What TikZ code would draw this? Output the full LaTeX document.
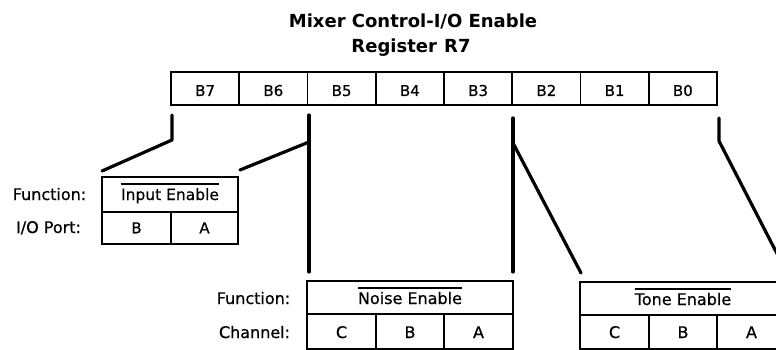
\documentclass[tikz,border=0pt]{standalone}
\usepackage{fontspec}
\setmainfont{DejaVu Sans}[UprightFeatures={FakeBold=0.6}]
\newcommand\ovtxt[1]{\setbox0\hbox{#1}\rlap{\raisebox{15.5pt}{\rule{\wd0}{1.1pt}}}\box0}
\begin{document}
\begin{tikzpicture}[x=1pt,y=-1pt,
  cellbox/.style={draw,line width=1.6pt,inner sep=0pt,outer sep=0pt,text depth=0pt},
  conn/.style={line width=3.2pt,line cap=round,line join=round},
  lbl/.style={inner sep=0pt,anchor=base,font=\fontsize{16}{19}\selectfont},
  ttl/.style={inner sep=0pt,anchor=base,font=\bfseries\fontsize{18}{21}\selectfont}]
\useasboundingbox (0,0) rectangle (776,350);
\clip (0,0) rectangle (776,350);

% title
\node[ttl] (t1) at (413,28) {Mixer Control-I/O Enable};
\node[ttl] (t2) at (411,53) {Register\hspace{0.4em}R7};

% register cells
\foreach \n/\i in {7/0,6/1,5/2,4/3,3/4,2/5,1/6,0/7}{
  \node[cellbox,minimum width=68.25pt,minimum height=33pt,text height=15pt,
        font=\fontsize{15}{18}\selectfont,anchor=north west]
     (b\n) at ({171+68.25*\i},72) {B\n};
}

% Input enable box
\node[cellbox,minimum width=136pt,minimum height=35pt,text height=11pt,
      font=\fontsize{15.5}{18}\selectfont,anchor=north west]
   (inf) at (102,177) {\ovtxt{Input Enable}};
\node[cellbox,minimum width=69pt,minimum height=32pt,text height=10.5pt,
      font=\fontsize{15}{18}\selectfont,anchor=north west]
   (inb) at (102,212) {B};
\node[cellbox,minimum width=67pt,minimum height=32pt,text height=10.5pt,
      font=\fontsize{15}{18}\selectfont,anchor=north west]
   (ina) at (171,212) {A};
\node[lbl] (lf1) at (49.5,200) {Function:};
\node[lbl] (lp1) at (48.5,233) {I/O Port:};

% Noise enable box
\node[cellbox,minimum width=206pt,minimum height=33pt,text height=13pt,
      font=\fontsize{16}{19}\selectfont,anchor=north west]
   (nf) at (307,281) {\ovtxt{Noise Enable}};
\node[cellbox,minimum width=69pt,minimum height=35pt,text height=13pt,
      font=\fontsize{16}{19}\selectfont,anchor=north west]
   (nc) at (307,314) {C};
\node[cellbox,minimum width=68pt,minimum height=35pt,text height=13pt,
      font=\fontsize{16}{19}\selectfont,anchor=north west]
   (nb) at (376,314) {B};
\node[cellbox,minimum width=69pt,minimum height=35pt,text height=13pt,
      font=\fontsize{16}{19}\selectfont,anchor=north west]
   (na) at (444,314) {A};
\node[lbl] (lf2) at (253.5,304) {Function:};
\node[lbl] (lc2) at (254.5,338) {Channel:};

% Tone enable box
\node[cellbox,minimum width=206pt,minimum height=33pt,text height=13pt,
      font=\fontsize{16}{19}\selectfont,anchor=north west]
   (tf) at (580,282) {\ovtxt{Tone Enable}};
\node[cellbox,minimum width=69pt,minimum height=34pt,text height=12pt,
      font=\fontsize{16}{19}\selectfont,anchor=north west]
   (tc) at (580,315) {C};
\node[cellbox,minimum width=68pt,minimum height=34pt,text height=12pt,
      font=\fontsize{16}{19}\selectfont,anchor=north west]
   (tb) at (649,315) {B};
\node[cellbox,minimum width=69pt,minimum height=34pt,text height=12pt,
      font=\fontsize{16}{19}\selectfont,anchor=north west]
   (ta) at (717,315) {A};

% connector points
\coordinate (a0) at (172,115);
\coordinate (a1) at (172,140);
\coordinate (a2) at (102,171);
\coordinate (c0) at (309,115);
\coordinate (c1) at (309,142);
\coordinate (c2) at (309,272);
\coordinate (c3) at (240,170);
\coordinate (d0) at (513,118);
\coordinate (d1) at (513,143);
\coordinate (d2) at (513,272);
\coordinate (d3) at (581,273);
\coordinate (e0) at (719,118);
\coordinate (e1) at (719,141);
\coordinate (e2) at (787,273);

\draw[conn] (a0) -- (a1) -- (a2);
\draw[conn] (c0) -- (c2);
\draw[conn] (c3) -- (c1);
\draw[conn] (d0) -- (d2);
\draw[conn] (d1) -- (d3);
\draw[conn] (e0) -- (e1) -- (e2);
\end{tikzpicture}
\end{document}
